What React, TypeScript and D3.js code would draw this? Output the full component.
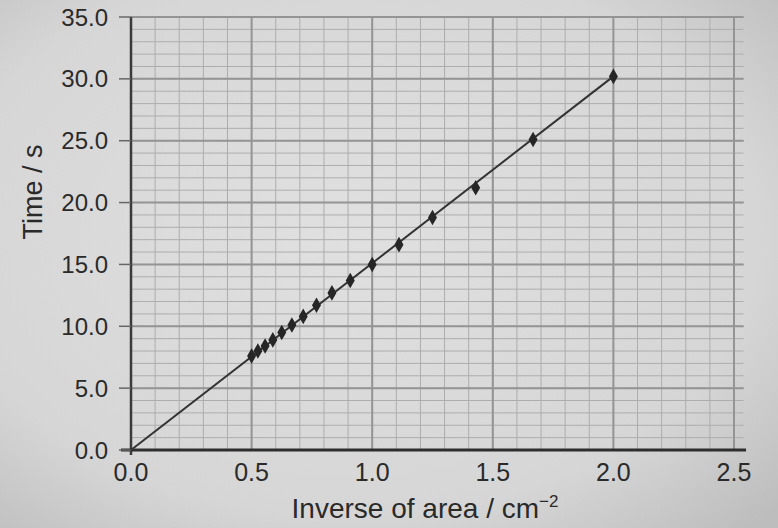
import React from 'react';
import * as d3 from 'd3';

// inverse of area (cm^-2) and time (s)
const inverseArea = [0.5, 0.526, 0.556, 0.588, 0.625, 0.667, 0.714, 0.769, 0.833, 0.909, 1.0, 1.111, 1.25, 1.429, 1.667, 2.0];
const timeS = [7.6, 8.0, 8.4, 8.9, 9.5, 10.1, 10.8, 11.7, 12.7, 13.7, 15.0, 16.6, 18.8, 21.2, 25.1, 30.2];
const fitLine = [[0, 0], [2.0, 30.2]];

const xTicks = [0, 0.5, 1.0, 1.5, 2.0, 2.5];
const yTicks = [0, 5, 10, 15, 20, 25, 30, 35];

const W = 778;
const H = 528;

export default function App() {
  const x = d3.scaleLinear().domain([0, 2.5]).range([131, 734]);
  const y = d3.scaleLinear().domain([0, 35]).range([450, 17]);

  const minorX = d3.range(0, 26).map(i => i / 10);
  const minorY = d3.range(0, 36);
  const line = d3.line<number[]>().x(d => x(d[0])).y(d => y(d[1]));
  const xEnd = x(2.54);
  const font = '"Liberation Sans", Arial, sans-serif';

  return (
    <div style={{ position: 'absolute', left: 0, top: 0 }}>
      <svg width={W} height={H} style={{ display: 'block' }}>
        <defs>
          <radialGradient id="bg" cx="45%" cy="45%" r="75%">
            <stop offset="0%" stopColor="#e0e0e0" />
            <stop offset="70%" stopColor="#d6d6d6" />
            <stop offset="100%" stopColor="#bdbdbd" />
          </radialGradient>
        </defs>
        <rect width={W} height={H} fill="url(#bg)" />

        {/* minor grid */}
        {minorX.map(v => (
          <line key={'mx' + v} x1={x(v)} x2={x(v)} y1={y(35)} y2={y(0)}
            stroke="#adadad" strokeWidth={1} />
        ))}
        {minorY.map(v => (
          <line key={'my' + v} x1={x(0)} x2={xEnd} y1={y(v)} y2={y(v)}
            stroke="#adadad" strokeWidth={1} />
        ))}
        {/* major grid */}
        {xTicks.map(v => (
          <line key={'gx' + v} x1={x(v)} x2={x(v)} y1={y(35)} y2={y(0)}
            stroke="#949494" strokeWidth={2} />
        ))}
        {yTicks.map(v => (
          <line key={'gy' + v} x1={x(0)} x2={xEnd} y1={y(v)} y2={y(v)}
            stroke="#949494" strokeWidth={2} />
        ))}

        {/* axes */}
        <line x1={x(0)} x2={x(0)} y1={y(35)} y2={y(0) + 5} stroke="#3a3a3a" strokeWidth={2.5} />
        <line x1={x(0) - 10} x2={x(2.55)} y1={y(0)} y2={y(0)} stroke="#2e2e2e" strokeWidth={3} />
        {yTicks.map(v => (
          <line key={'ty' + v} x1={x(0) - 12} x2={x(0)} y1={y(v)} y2={y(v)} stroke="#666" strokeWidth={1.5} />
        ))}

        {/* fit line */}
        <path d={line(fitLine) || ''} fill="none" stroke="#333" strokeWidth={2} />

        {/* data points */}
        {inverseArea.map((v, i) => (
          <path key={'p' + i}
            d={d3.symbol(d3.symbolDiamond, 70)() || ''}
            transform={`translate(${x(v)},${y(timeS[i])})`}
            fill="#262626" />
        ))}

        {/* tick labels */}
        {yTicks.map(v => (
          <text key={'ly' + v} x={108} y={y(v)} dy="0.36em" textAnchor="end"
            fontFamily={font} fontSize={24} fill="#2a2a2a">{v.toFixed(1)}</text>
        ))}
        {xTicks.map(v => (
          <text key={'lx' + v} x={x(v)} y={y(0) + 22} dy="0.36em" textAnchor="middle"
            fontFamily={font} fontSize={25} fill="#2a2a2a">{v.toFixed(1)}</text>
        ))}

        {/* axis titles */}
        <text x={425} y={518} textAnchor="middle" fontFamily={font} fontSize={28} fill="#2a2a2a">
          Inverse of area / cm<tspan dy="-11" fontSize={17}>−2</tspan>
        </text>
        <text transform="translate(42,192) rotate(-90)" textAnchor="middle"
          fontFamily={font} fontSize={27} fill="#2a2a2a">Time / s</text>
      </svg>
    </div>
  );
}
